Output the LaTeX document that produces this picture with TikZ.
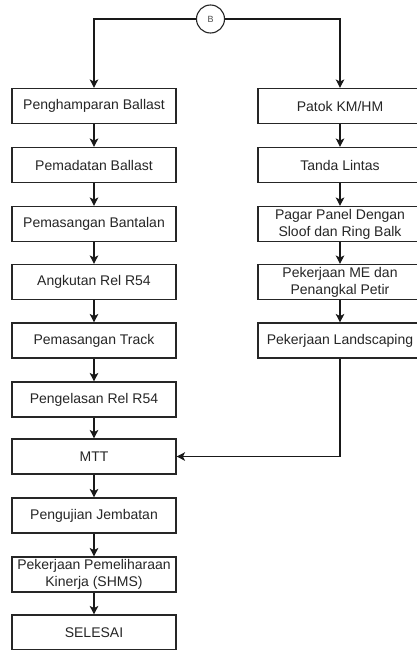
\documentclass[tikz,border=0pt]{standalone}
\usepackage{fontspec}
\setmainfont{Liberation Sans}
\usetikzlibrary{arrows.meta}
\begin{document}
\begin{tikzpicture}[x=1pt,y=-1pt,
  stepbox/.style={draw=black!85,line width=1.1pt,rectangle,minimum width=164pt,minimum height=35pt,
    inner sep=0pt,align=center,font=\fontsize{14pt}{16.8pt}\selectfont,text=black!85},
  link/.style={draw=black!90,line width=1.1pt,-{Stealth[length=8.5pt,width=8.5pt,inset=2.2pt]}}]
\clip (0,0) rectangle (417,650);
\fill[white] (0,0) rectangle (417,650);

% off-page connector
\node[draw=black!85,line width=1.1pt,circle,minimum size=28pt,inner sep=0pt,
  font=\fontsize{9pt}{10pt}\selectfont,text=black!70] (b) at (210.5,19) {B};

% left column
\node[stepbox] (l1) at (94,106) {Penghamparan Ballast};
\node[stepbox] (l2) at (94,165) {Pemadatan Ballast};
\node[stepbox] (l3) at (94,224) {Pemasangan Bantalan};
\node[stepbox] (l4) at (94,282) {Angkutan Rel R54};
\node[stepbox] (l5) at (94,340.5) {Pemasangan Track};
\node[stepbox] (l6) at (94,399.5) {Pengelasan Rel R54};
\node[stepbox] (l7) at (94,456.5) {MTT};
\node[stepbox] (l8) at (94,515.5) {Pengujian Jembatan};
\node[stepbox] (l9) at (94,574.5) {Pekerjaan Pemeliharaan\\Kinerja (SHMS)};
\node[stepbox] (l10) at (94,632.5) {SELESAI};

% right column
\node[stepbox] (r1) at (340,106) {Patok KM/HM};
\node[stepbox] (r2) at (340,165) {Tanda Lintas};
\node[stepbox] (r3) at (340,224) {Pagar Panel Dengan\\Sloof dan Ring Balk};
\node[stepbox] (r4) at (340,282) {Pekerjaan ME dan\\Penangkal Petir};
\node[stepbox] (r5) at (340,340.5) {Pekerjaan Landscaping};

% branches from the connector
\draw[link] (b.west) -| (l1.north);
\draw[link] (b.east) -| (r1.north);

% left chain
\foreach \a/\b in {l1/l2,l2/l3,l3/l4,l4/l5,l5/l6,l6/l7,l7/l8,l8/l9,l9/l10}
  \draw[link] (\a.south) -- (\b.north);

% right chain
\foreach \a/\b in {r1/r2,r2/r3,r3/r4,r4/r5}
  \draw[link] (\a.south) -- (\b.north);

% join into MTT
\draw[link] (r5.south) |- (l7.east);
\end{tikzpicture}
\end{document}
